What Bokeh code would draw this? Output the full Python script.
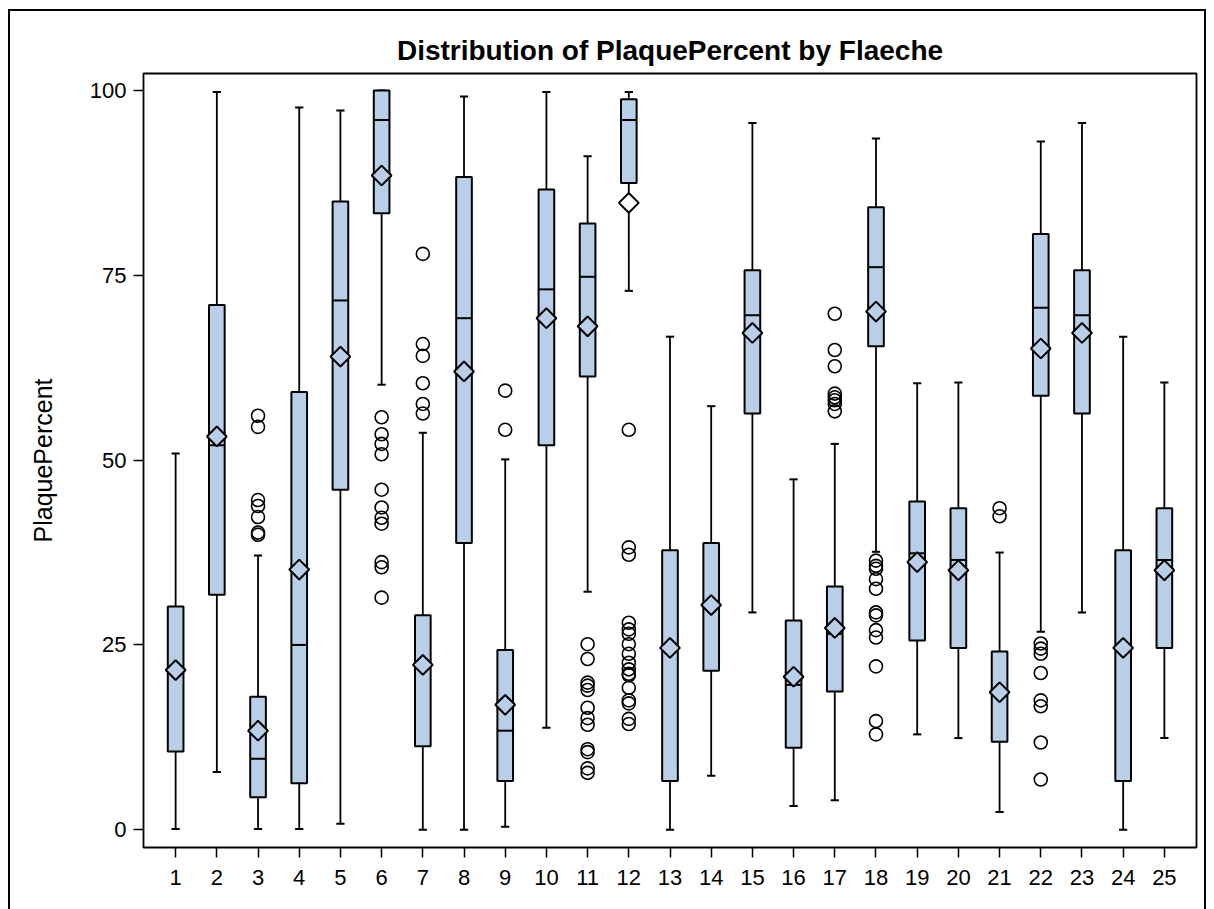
from bokeh.plotting import figure
from bokeh.models import FixedTicker, Range1d, ColumnDataSource, InlineStyleSheet
from bokeh.embed import file_html
from bokeh.resources import INLINE

# ---- data ----
groups = list(range(1, 26))
tick_labels = [str(g) for g in groups]
lower_whisker = [0.1, 7.8, 0.1, 0.1, 0.8, 60.2, 0.0, 0.0, 0.4, 13.8, 32.2, 72.9, 0.0,
                 7.3, 29.4, 3.2, 4.0, 37.6, 12.9, 12.4, 2.4, 26.8, 29.4, 0.0, 12.4]
q1 = [10.6, 31.8, 4.4, 6.3, 46.0, 83.4, 11.3, 38.8, 6.6, 52.0, 61.3, 87.5, 6.6,
      21.5, 56.3, 11.1, 18.7, 65.4, 25.6, 24.6, 11.9, 58.7, 56.3, 6.6, 24.6]
median = [21.7, 52.0, 9.6, 25.0, 71.6, 96.0, 22.0, 69.2, 13.4, 73.1, 74.8, 96.0, 24.6,
          30.5, 69.6, 19.6, 26.5, 76.1, 37.4, 36.5, 18.4, 70.6, 69.6, 24.6, 36.5]
q3 = [30.2, 71.0, 18.0, 59.2, 85.0, 100.0, 29.0, 88.3, 24.3, 86.6, 82.0, 98.8, 37.8,
      38.8, 75.7, 28.3, 32.9, 84.2, 44.4, 43.5, 24.1, 80.6, 75.7, 37.8, 43.5]
upper_whisker = [50.9, 99.8, 37.1, 97.7, 97.3, 100.0, 53.7, 99.2, 50.1, 99.8, 91.1, 99.8, 66.7,
                 57.3, 95.6, 47.4, 52.2, 93.5, 60.4, 60.5, 37.5, 93.1, 95.6, 66.7, 60.5]
means = [21.6, 53.2, 13.4, 35.2, 64.0, 88.5, 22.3, 62.0, 16.9, 69.2, 68.1, 84.8, 24.6,
         30.4, 67.2, 20.7, 27.3, 70.1, 36.2, 35.1, 18.6, 65.1, 67.2, 24.6, 35.1]
outliers = [
    [],
    [],
    [56.0, 54.5, 44.6, 43.8, 42.3, 40.2, 39.9],
    [],
    [],
    [55.8, 53.5, 52.2, 50.8, 46.0, 43.6, 42.2, 41.4, 36.2, 35.5, 31.4],
    [77.9, 65.7, 64.1, 60.4, 57.6, 56.3],
    [],
    [59.4, 54.1],
    [],
    [25.1, 23.1, 19.9, 19.5, 18.9, 16.5, 15.1, 14.2, 10.9, 10.5, 8.3, 7.7],
    [54.1, 38.2, 37.2, 28.0, 27.1, 26.5, 25.1, 23.8, 22.6, 21.7, 21.1, 20.9, 19.2,
     17.5, 17.1, 15.0, 14.3],
    [],
    [],
    [],
    [],
    [69.8, 64.9, 62.7, 59.0, 58.5, 58.1, 57.6, 56.6],
    [36.4, 35.7, 35.3, 33.9, 32.6, 29.4, 29.0, 27.0, 26.0, 22.1, 14.7, 12.9],
    [],
    [],
    [43.5, 42.4],
    [25.2, 24.5, 23.8, 21.2, 17.5, 16.7, 11.8, 6.8],
    [],
    [],
    [],
]
y_ticks = [0, 25, 50, 75, 100]

# ---- styling constants ----
BOX_W = 0.38
CAP_W = 0.2
BOX_FILL = "#B9CFE8"
FONT = "Liberation Sans"

box_src = ColumnDataSource(dict(
    x=groups, q1=q1, q3=q3, med=median, lo=lower_whisker, hi=upper_whisker,
    xl=[g - BOX_W / 2 for g in groups], xr=[g + BOX_W / 2 for g in groups],
    cl=[g - CAP_W / 2 for g in groups], cr=[g + CAP_W / 2 for g in groups],
))
mean_src = ColumnDataSource(dict(
    x=groups, y=means,
    fill=[BOX_FILL if a <= m <= b else "white" for m, a, b in zip(means, q1, q3)],
))
ox, oy = [], []
for g, vals in zip(groups, outliers):
    for v in vals:
        ox.append(g)
        oy.append(v)
out_src = ColumnDataSource(dict(x=ox, y=oy))

p = figure(width=1214, height=909, output_backend="svg", toolbar_location=None,
           x_range=Range1d(0.22, 25.78), y_range=Range1d(-2.4, 102.3),
           min_border_left=143, min_border_right=18, min_border_top=73,
           min_border_bottom=62, title="Distribution of PlaquePercent by Flaeche")

p.background_fill_color = "white"
p.border_fill_color = "white"
p.outline_line_color = "black"
p.outline_line_width = 1.8
p.xgrid.visible = False
p.ygrid.visible = False

p.title.text_font = FONT
p.title.text_font_style = "bold"
p.title.text_font_size = "28px"
p.title.text_color = "black"
p.title.align = "center"
p.title.standoff = 16

for ax in (p.xaxis[0], p.yaxis[0]):
    ax.axis_line_color = None
    ax.major_tick_in = 0
    ax.major_tick_out = 10
    ax.major_tick_line_width = 1.5
    ax.major_tick_line_color = "black"
    ax.minor_tick_line_color = None
    ax.major_label_text_font = FONT
    ax.major_label_text_font_size = "22px"
    ax.major_label_text_color = "black"

p.xaxis.ticker = FixedTicker(ticks=groups)
p.xaxis.major_label_overrides = {g: t for g, t in zip(groups, tick_labels)}
p.xaxis.major_label_standoff = 12
p.yaxis.ticker = FixedTicker(ticks=y_ticks)
p.yaxis.major_label_standoff = 7
p.yaxis.axis_label = "PlaquePercent"
p.yaxis.axis_label_text_font = FONT
p.yaxis.axis_label_text_font_style = "normal"
p.yaxis.axis_label_text_font_size = "25px"
p.yaxis.axis_label_text_color = "black"
p.yaxis.axis_label_standoff = 30

# whiskers and caps
p.segment(x0="x", y0="q3", x1="x", y1="hi", source=box_src, line_color="black", line_width=1.8)
p.segment(x0="x", y0="q1", x1="x", y1="lo", source=box_src, line_color="black", line_width=1.8)
p.segment(x0="cl", y0="hi", x1="cr", y1="hi", source=box_src, line_color="black", line_width=2)
p.segment(x0="cl", y0="lo", x1="cr", y1="lo", source=box_src, line_color="black", line_width=2)
# boxes
p.quad(left="xl", right="xr", bottom="q1", top="q3", source=box_src,
       fill_color=BOX_FILL, line_color="black", line_width=2)
# medians
p.segment(x0="xl", y0="med", x1="xr", y1="med", source=box_src, line_color="black", line_width=2)
# means
p.scatter(x="x", y="y", source=mean_src, marker="square", angle=0.785398, size=14,
          fill_color="fill", line_color="black", line_width=2)
# outliers
p.scatter(x="x", y="y", source=out_src, marker="circle", size=13,
          fill_color=None, line_color="black", line_width=1.6)

# outer graph border (drawn with CSS around the whole figure)
p.stylesheets = [InlineStyleSheet(css="""
:host { position: relative; overflow: hidden; }
:host::after {
  content: ""; position: absolute; left: 8px; top: 9px;
  width: 1198px; height: 1000px; box-sizing: border-box;
  border: 2px solid black; pointer-events: none; z-index: 10;
}
""")]

open("out.html", "w").write(file_html(p, INLINE))
